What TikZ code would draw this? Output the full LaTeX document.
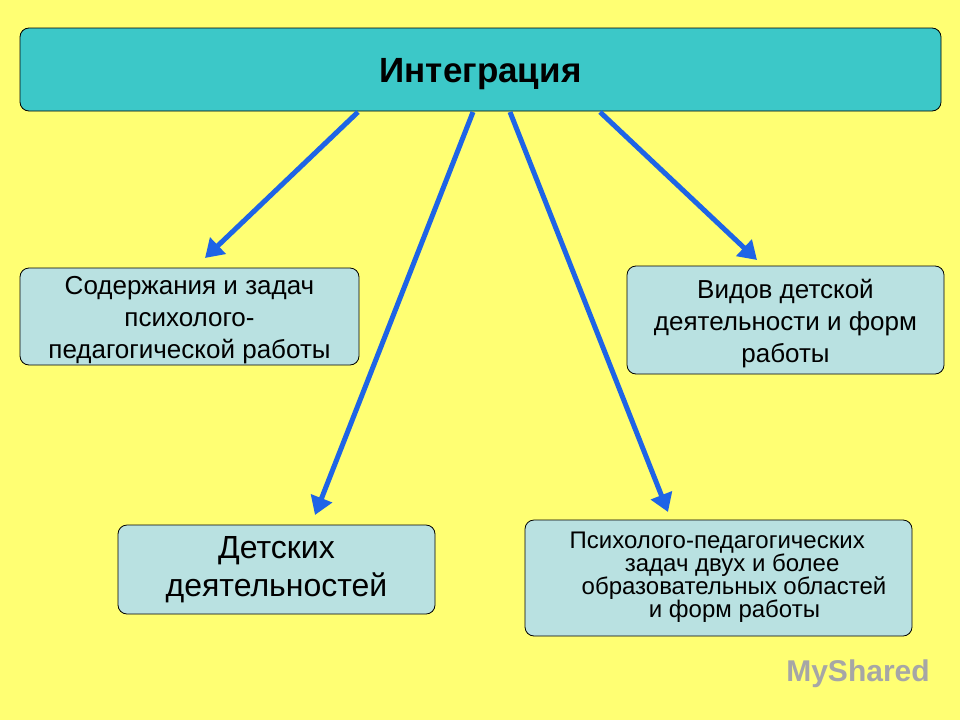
\documentclass[tikz,border=0pt]{standalone}
\usepackage{fontspec}
\setmainfont{Liberation Sans}
\usetikzlibrary{arrows.meta}
\definecolor{bg}{HTML}{FFFF73}
\definecolor{topc}{HTML}{3CC8C8}
\definecolor{boxc}{HTML}{B9E1E1}
\definecolor{arr}{HTML}{1E64E6}
\tikzset{
 box/.style={draw=black,line width=0.8pt,rounded corners=9pt,fill=boxc,align=center,font=\fontsize{26}{32}\selectfont},
 conn/.style={draw=arr,line width=5pt,-{Triangle[length=18pt,width=22pt]}}
}
\begin{document}
\begin{tikzpicture}[x=1pt,y=-1pt]
\fill[bg] (0,0) rectangle (960,720);
\useasboundingbox (0,0) rectangle (960,720);
\node[box,fill=topc,minimum width=921pt,minimum height=83pt] (top) at (480.5,69.5) {};
\node[font=\fontsize{35}{40}\selectfont\bfseries] (toptext) at (480.5,74) {Интеграция};
\node[box,minimum width=339pt,minimum height=97pt] (b1) at (189.5,316.5) {};
\node[align=center,font=\fontsize{26}{32}\selectfont] (b1t) at (189.5,320) {Содержания и задач\\психолого-\\педагогической работы};
\node[box,minimum width=317pt,minimum height=108pt] (b2) at (785.5,320) {};
\node[align=center,font=\fontsize{26}{32}\selectfont] (b2t) at (785.5,324) {Видов детской\\деятельности и форм\\работы};
\node[box,minimum width=317pt,minimum height=89pt,font=\fontsize{32}{38}\selectfont] (b3) at (276.5,569.5) {Детских\\деятельностей};
\node[box,minimum width=387pt,minimum height=116pt] (b4) at (718.5,578) {};
\node[align=left,font=\fontsize{24}{23}\selectfont] (b4t) at (728,577) {Психолого-педагогических\\\hspace*{2.3em}задач двух и более\\\hspace*{0.5em}образовательных областей\\\hspace*{3.3em}и форм работы};
\coordinate (s1) at (358,112); \coordinate (e1) at (205,258);
\coordinate (s2) at (473,112); \coordinate (e2) at (315,515);
\coordinate (s3) at (510,112); \coordinate (e3) at (668,512);
\coordinate (s4) at (600,112); \coordinate (e4) at (757,260);
\draw[conn] (s1) -- (e1);
\draw[conn] (s2) -- (e2);
\draw[conn] (s3) -- (e3);
\draw[conn] (s4) -- (e4);
\node[text=gray!70,font=\fontsize{30}{34}\selectfont\bfseries] (wm) at (858,674) {MyShared};
\end{tikzpicture}
\end{document}
